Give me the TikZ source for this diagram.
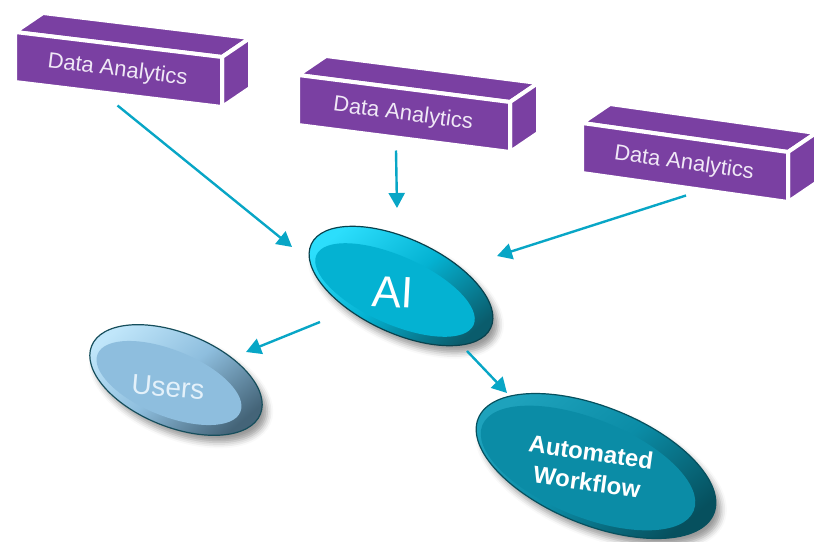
\documentclass[tikz,border=0pt]{standalone}
\usepackage{fontspec}
\setmainfont{Liberation Sans}
\usetikzlibrary{arrows.meta,positioning,shapes.geometric,shadows.blur}

\definecolor{dapurple}{RGB}{122,64,162}
\definecolor{dawhite}{RGB}{240,232,246}
\definecolor{flowcyan}{RGB}{8,166,198}
\definecolor{aiface}{RGB}{4,178,210}
\definecolor{aihigh}{RGB}{44,222,252}
\definecolor{aidark}{RGB}{10,92,108}
\definecolor{aiedge}{RGB}{8,66,78}
\definecolor{usface}{RGB}{142,190,222}
\definecolor{ushigh}{RGB}{192,230,250}
\definecolor{usdark}{RGB}{68,100,120}
\definecolor{usedge}{RGB}{22,78,92}
\definecolor{ustext}{RGB}{228,241,250}
\definecolor{wfface}{RGB}{11,140,166}
\definecolor{wfhigh}{RGB}{30,162,188}
\definecolor{wfdark}{RGB}{6,80,94}

\tikzset{
  face/.style={fill=dapurple, draw=white, line width=4pt, line join=round},
  datext/.style={text=dawhite, font=\fontsize{22}{25}\selectfont},
  flow/.style={draw=flowcyan, line width=2.4pt, -{Triangle[length=15pt,width=16pt]}},
  disc/.style={ellipse, inner sep=0pt, line width=1.2pt,
    blur shadow={shadow xshift=5pt, shadow yshift=-7pt, shadow blur radius=6pt}},
  discface/.style={ellipse, inner sep=0pt}
}

\begin{document}
\begin{tikzpicture}[x=1pt,y=-1pt]
  \useasboundingbox (0,0) rectangle (819,541);

  % the three data boxes
  \foreach \n/\x/\y/\ux/\uy/\a in {1/15/32/207/25/-7.2, 2/298/75/212/27/-7.5, 3/582/123/206/29/-8.0}
  {
    \draw[face] (\x,\y) -- ++(\ux,\uy) -- ++(28,-19) -- ++(-\ux,-\uy) -- cycle;
    \draw[face] (\x+\ux,\y+\uy) -- ++(28,-19) -- ++(0,50) -- ++(-28,19) -- cycle;
    \draw[face] (\x,\y) -- ++(\ux,\uy) -- ++(0,50) -- ++(-\ux,-\uy) -- cycle;
    \node[datext, rotate=\a] (da\n) at (\x+\ux/2-1,\y+\uy/2+26) {Data Analytics};
  }

  % AI
  \node[disc, rotate=-25, minimum width=198pt, minimum height=94pt, draw=aiedge,
    top color=aihigh, bottom color=aidark, middle color=aiface, shading angle=40] (ai) at (401,286) {};
  \node[discface, rotate=-24, minimum width=172pt, minimum height=68pt, fill=aiface] (aiface)
    at ([shift={(-6,4)}]ai.center) {};
  \node[text=white, font=\fontsize{44}{48}\selectfont, rotate=-3] (ailabel)
    at ([shift={(-8,6)}]ai.center) {AI};

  % Users
  \node[disc, rotate=-22, minimum width=182pt, minimum height=94pt, draw=usedge,
    top color=ushigh, bottom color=usdark, middle color=usface, shading angle=40] (users) at (176,380) {};
  \node[discface, rotate=-22, minimum width=154pt, minimum height=66pt, fill=usface] (usface)
    at ([shift={(-7,3)}]users.center) {};
  \node[text=ustext, font=\fontsize{28}{32}\selectfont, rotate=-5] (uslabel)
    at ([shift={(-8,7)}]users.center) {Users};

  % Automated Workflow
  \node[disc, rotate=-22, minimum width=254pt, minimum height=118pt, draw=wfdark,
    top color=wfhigh, bottom color=wfdark, middle color=wfface, shading angle=40] (workflow) at (596,466) {};
  \node[discface, rotate=-22, minimum width=228pt, minimum height=98pt, fill=wfface] (wfface)
    at ([shift={(-8,2)}]workflow.center) {};
  \node[text=white, font=\bfseries\fontsize{24}{30}\selectfont, align=center, rotate=-8] (wflabel)
    at ([shift={(-7,1)}]workflow.center) {Automated\\Workflow};

  % arrows
  \draw[flow] ([shift={(0,35)}]da1.center) -- ([shift={(-109,-39)}]ai.center);
  \draw[flow] ([shift={(-7,36)}]da2.center) -- ([shift={(-4,-78)}]ai.center);
  \draw[flow] ([shift={(2,32)}]da3.center) -- ([shift={(96,-30)}]ai.center);
  \draw[flow] ([shift={(-81,36)}]ai.center) -- ([shift={(70,-28)}]users.center);
  \draw[flow] ([shift={(66,65)}]ai.center) -- ([shift={(-89,-73)}]workflow.center);
\end{tikzpicture}
\end{document}
